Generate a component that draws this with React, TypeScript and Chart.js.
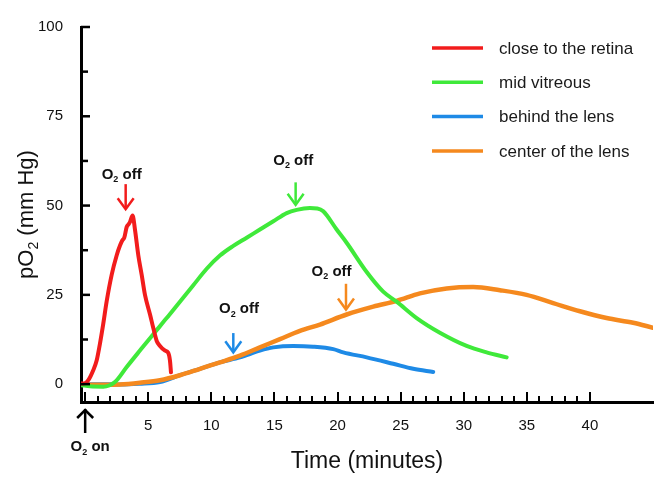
import React, { useEffect, useRef } from 'react';
import { Chart, registerables } from 'chart.js';

Chart.register(...registerables);

const FONT = '"Liberation Sans", Arial, Helvetica, sans-serif';

// ---- series ----
const seriesLabels = ['close to the retina', 'mid vitreous', 'behind the lens', 'center of the lens'];
const seriesColors = ['#f21c1c', '#3fe93a', '#1e8ae6', '#f5891e'];

const retinaT = [-0.28, 0.0, 0.25, 0.64, 0.91, 1.17, 1.43, 1.7, 2.1, 2.5, 2.76, 2.95, 3.1, 3.29, 3.45, 3.55, 3.76, 3.95, 4.21, 4.48, 4.74, 5.14, 5.4, 5.67, 5.93, 6.32, 6.58, 6.72, 6.8];
const retinaV = [0.2, 0.3, 1.1, 3.9, 6.6, 11.3, 16.8, 23.1, 30.6, 36.1, 38.8, 40.3, 41.0, 44.0, 44.8, 45.4, 47.2, 43.2, 36.1, 30.6, 25.0, 19.5, 15.7, 12.1, 10.7, 9.4, 8.8, 6.6, 3.3];

const vitreousT = [-0.28, 0.38, 1.43, 2.36, 3.29, 4.34, 5.4, 6.46, 7.51, 8.57, 9.63, 10.68, 11.74, 12.8, 13.85, 14.91, 15.97, 16.76, 17.81, 18.4, 18.87, 19.93, 20.72, 22.31, 23.62, 24.68, 26.27, 28.11, 30.23, 31.81, 33.4];
const vitreousV = [-0.3, -0.6, -0.7, 0.6, 4.8, 9.4, 14.0, 18.5, 23.1, 27.7, 32.3, 36.0, 38.7, 41.0, 43.3, 45.6, 47.9, 48.8, 49.3, 49.2, 48.4, 43.3, 39.6, 31.4, 25.9, 23.1, 18.5, 14.4, 10.7, 8.9, 7.5];

const lensBehindT = [-0.28, 1.5, 2.76, 4.3, 5.93, 7.51, 9.1, 10.68, 12.27, 13.85, 14.91, 16.49, 18.07, 19.66, 20.45, 22.31, 24.41, 26.0, 27.58];
const lensBehindV = [-0.1, 0.0, -0.1, 0.1, 0.6, 2.5, 4.3, 6.1, 7.5, 9.4, 10.3, 10.7, 10.5, 9.8, 8.9, 7.5, 5.7, 4.3, 3.4];

const lensCenterT = [-0.28, 1.5, 2.76, 4.34, 5.93, 7.51, 9.1, 10.68, 12.27, 13.85, 15.44, 17.02, 18.61, 20.72, 22.83, 24.68, 26.53, 28.65, 30.75, 32.87, 34.98, 37.09, 39.21, 41.32, 43.43, 45.0];
const lensCenterV = [-0.1, -0.2, -0.1, 0.4, 1.1, 2.5, 4.3, 6.1, 8.0, 10.3, 12.6, 14.9, 16.7, 19.5, 21.7, 23.3, 25.4, 26.8, 27.2, 26.3, 25.0, 22.7, 20.4, 18.5, 17.2, 15.8];

// ---- axes ----
const xTickLabels = [5, 10, 15, 20, 25, 30, 35, 40];
const xTickMarks = [0, 1, 2, 3, 4, 5, 6, 7, 8, 9, 10, 11, 12, 13, 14, 15, 16, 17, 18, 19, 20, 21, 22, 23, 24, 25, 26, 27, 28, 29, 30, 31, 32, 33, 34, 35, 36, 37, 38, 39, 40];
const yTickLabels = [0, 25, 50, 75, 100];
const yTickMarks = [0, 12.5, 25, 37.5, 50, 62.5, 75, 87.5, 100];

// ---- "O2 off" annotations (one per series) ----
const offTextT = [2.89, 16.49, 12.19, 19.53];
const offTextV = [58.9, 62.9, 21.3, 31.8];
const offArrowT = [3.21, 16.68, 11.74, 20.67];
const offArrowTailV = [56.0, 56.5, 14.3, 28.1];
const offArrowTipV = [49.0, 50.2, 8.9, 20.9];
const onArrowT = 0;

const seriesT = [retinaT, vitreousT, lensBehindT, lensCenterT];
const seriesV = [retinaV, vitreousV, lensBehindV, lensCenterV];
const drawOrder = [1, 2, 4, 3];

function drawO2(ctx: CanvasRenderingContext2D, cx: number, cy: number, suffix: string, size: number) {
  const big = `bold ${size}px ${FONT}`;
  const small = `bold ${Math.round(size * 0.62)}px ${FONT}`;
  ctx.font = big;
  const wO = ctx.measureText('O').width;
  const wS = ctx.measureText(suffix).width;
  ctx.font = small;
  const w2 = ctx.measureText('2').width;
  const total = wO + w2 + wS;
  let x = cx - total / 2;
  const base = cy + size * 0.36;
  ctx.textAlign = 'left';
  ctx.textBaseline = 'alphabetic';
  ctx.font = big;
  ctx.fillText('O', x, base);
  x += wO;
  ctx.font = small;
  ctx.fillText('2', x, base + size * 0.22);
  x += w2;
  ctx.font = big;
  ctx.fillText(suffix, x, base);
}

function drawArrow(ctx: CanvasRenderingContext2D, x: number, yTail: number, yTip: number, color: string, hw: number, hl: number) {
  ctx.strokeStyle = color;
  ctx.lineWidth = 2.5;
  ctx.lineCap = 'butt';
  ctx.lineJoin = 'miter';
  ctx.beginPath();
  ctx.moveTo(x, yTail);
  ctx.lineTo(x, yTip - 1);
  ctx.stroke();
  const dir = yTip > yTail ? 1 : -1;
  ctx.beginPath();
  ctx.moveTo(x - hw, yTip - dir * hl);
  ctx.lineTo(x, yTip);
  ctx.lineTo(x + hw, yTip - dir * hl);
  ctx.stroke();
}

const decorPlugin = {
  id: 'decor',
  afterDraw(chart: any) {
    const ctx: CanvasRenderingContext2D = chart.ctx;
    const xs = chart.scales.x;
    const ys = chart.scales.y;
    const area = chart.chartArea;
    ctx.save();

    // inward tick marks
    ctx.strokeStyle = '#000';
    ctx.lineCap = 'butt';
    ctx.lineWidth = 2;
    for (const v of xTickMarks) {
      const px = Math.round(xs.getPixelForValue(v));
      const len = v % 5 === 0 ? 10 : 6;
      ctx.beginPath();
      ctx.moveTo(px, area.bottom);
      ctx.lineTo(px, area.bottom - len);
      ctx.stroke();
    }
    ctx.lineWidth = 2.5;
    for (const v of yTickMarks) {
      const py = ys.getPixelForValue(v);
      const len = v % 25 === 0 ? 9 : 7;
      ctx.beginPath();
      ctx.moveTo(area.left, py);
      ctx.lineTo(area.left + len, py);
      ctx.stroke();
    }

    // O2 off annotations
    for (let i = 0; i < offTextT.length; i++) {
      ctx.fillStyle = '#111';
      drawO2(ctx, xs.getPixelForValue(offTextT[i]), ys.getPixelForValue(offTextV[i]), ' off', 15);
      drawArrow(
        ctx,
        xs.getPixelForValue(offArrowT[i]),
        ys.getPixelForValue(offArrowTailV[i]),
        ys.getPixelForValue(offArrowTipV[i]),
        seriesColors[i],
        8,
        11
      );
    }

    // O2 on
    const onX = xs.getPixelForValue(onArrowT);
    drawArrow(ctx, onX, area.bottom + 31, area.bottom + 8, '#000', 8, 8);
    ctx.fillStyle = '#111';
    drawO2(ctx, onX + 5, area.bottom + 44, ' on', 15);

    // legend
    const legX1 = 432;
    const legX2 = 483;
    const legText = 499;
    const legY0 = 48;
    const legStep = 34.3;
    ctx.lineCap = 'butt';
    for (let i = 0; i < seriesLabels.length; i++) {
      const y = legY0 + i * legStep;
      ctx.strokeStyle = seriesColors[i];
      ctx.lineWidth = 3.5;
      ctx.beginPath();
      ctx.moveTo(legX1, y);
      ctx.lineTo(legX2, y);
      ctx.stroke();
      ctx.fillStyle = '#1a1a1a';
      ctx.font = `17px ${FONT}`;
      ctx.textAlign = 'left';
      ctx.textBaseline = 'middle';
      ctx.fillText(seriesLabels[i], legText, y + 1);
    }

    // x title
    ctx.fillStyle = '#111';
    ctx.font = `23px ${FONT}`;
    ctx.textAlign = 'center';
    ctx.textBaseline = 'middle';
    ctx.fillText('Time (minutes)', (area.left + area.right) / 2, 462);

    // y title with subscript
    ctx.save();
    ctx.translate(25, (area.top + area.bottom) / 2);
    ctx.rotate(-Math.PI / 2);
    const big = `22px ${FONT}`;
    const small = `14px ${FONT}`;
    ctx.font = big;
    const wA = ctx.measureText('pO').width;
    const wC = ctx.measureText(' (mm Hg)').width;
    ctx.font = small;
    const wB = ctx.measureText('2').width;
    let x = -(wA + wB + wC) / 2;
    ctx.textAlign = 'left';
    ctx.textBaseline = 'alphabetic';
    const base = 8;
    ctx.font = big;
    ctx.fillText('pO', x, base);
    x += wA;
    ctx.font = small;
    ctx.fillText('2', x, base + 5);
    x += wB;
    ctx.font = big;
    ctx.fillText(' (mm Hg)', x, base);
    ctx.restore();

    ctx.restore();
  },
};

export default function App() {
  const canvasRef = useRef<HTMLCanvasElement | null>(null);

  useEffect(() => {
    if (!canvasRef.current) return;
    const datasets = seriesLabels.map((label, i) => ({
      label,
      data: seriesT[i].map((t, j) => ({ x: t, y: seriesV[i][j] })),
      borderColor: seriesColors[i],
      backgroundColor: seriesColors[i],
      borderWidth: i === 3 ? 4.5 : 4,
      pointRadius: 0,
      cubicInterpolationMode: 'monotone' as const,
      borderJoinStyle: 'round' as const,
      borderCapStyle: 'round' as const,
      fill: false,
      order: drawOrder[i],
    }));

    const chart = new Chart(canvasRef.current, {
      type: 'line',
      data: { datasets },
      options: {
        animation: false,
        responsive: false,
        devicePixelRatio: 1,
        layout: { padding: { top: 20, right: 9, left: 0, bottom: 0 } },
        plugins: {
          legend: { display: false },
          tooltip: { enabled: false },
          title: { display: false },
        },
        scales: {
          x: {
            type: 'linear',
            min: -0.33,
            max: 45,
            grid: { display: false, drawTicks: false },
            border: { display: true, color: '#000', width: 3 },
            ticks: {
              color: '#111',
              font: { size: 15, family: FONT },
              padding: 15,
              autoSkip: false,
              maxRotation: 0,
              callback: (v: any) => String(v),
            },
            afterBuildTicks: (s: any) => {
              s.ticks = xTickLabels.map((v) => ({ value: v }));
            },
            afterFit: (s: any) => {
              s.height = 76;
            },
          },
          y: {
            type: 'linear',
            min: -5,
            max: 100,
            grid: { display: false, drawTicks: false },
            border: { display: true, color: '#000', width: 3 },
            ticks: {
              color: '#111',
              font: { size: 15, family: FONT },
              padding: 18,
              callback: (v: any) => String(v),
            },
            afterBuildTicks: (s: any) => {
              s.ticks = yTickLabels.map((v) => ({ value: v }));
            },
            afterFit: (s: any) => {
              s.width = 81;
            },
          },
        },
      },
      plugins: [decorPlugin],
    });
    return () => chart.destroy();
  }, []);

  return (
    <div style={{ position: 'absolute', left: 0, top: 0, width: 662, height: 478, background: '#fff' }}>
      <canvas ref={canvasRef} width={662} height={478} style={{ display: 'block' }} />
    </div>
  );
}
